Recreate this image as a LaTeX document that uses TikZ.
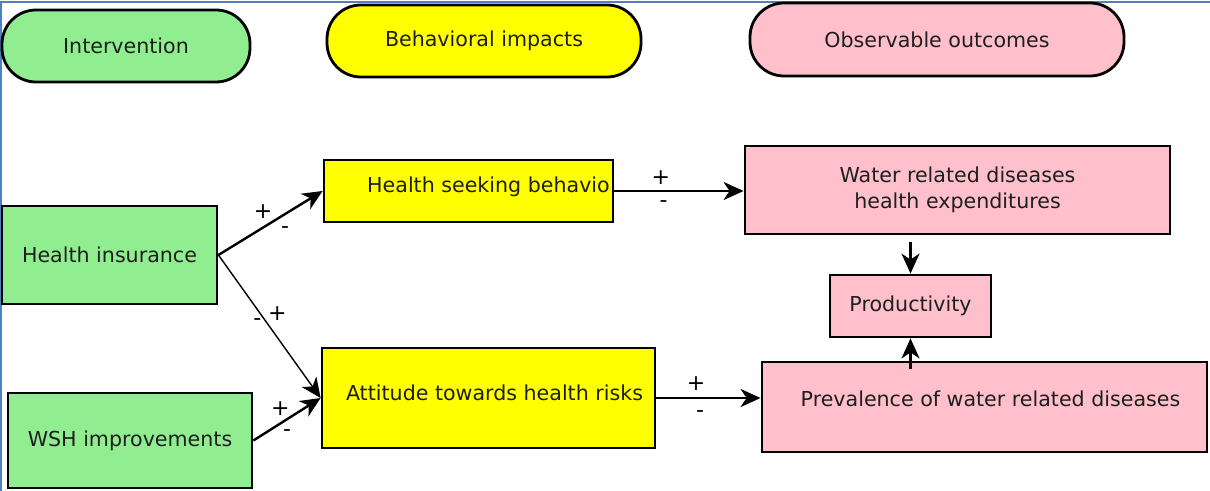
\documentclass[tikz,border=0pt]{standalone}
\usepackage{fontspec}
\setmainfont{DejaVu Sans}
\usetikzlibrary{arrows.meta}
\definecolor{insgreen}{RGB}{144,238,144}
\definecolor{behyellow}{RGB}{255,255,0}
\definecolor{outpink}{RGB}{255,192,203}
\definecolor{framblue}{RGB}{79,129,189}
\definecolor{textgray}{RGB}{30,30,30}

\begin{document}
\begin{tikzpicture}[x=0.5pt,y=-0.5pt]
\tikzstyle{every node}=[font=\fontsize{10.3}{13}\selectfont, text=textgray]
\tikzstyle{phase}=[draw, line width=1.4pt, rounded corners=17pt, minimum height=36pt, inner sep=0pt]
\tikzstyle{box}=[draw, line width=1.4pt, inner sep=0pt, align=center]
\tikzstyle{sign}=[inner sep=0pt, text=black, font=\fontsize{11}{13}\selectfont]
\tikzstyle{link}=[line width=1.2pt, -{Stealth[length=10pt,width=9pt,inset=3pt]}]
\useasboundingbox (0,0) rectangle (1210,491);
\draw[framblue, line width=1pt] (1,491) -- (1,2) -- (1210,2);

% column headers
\node at (126,46) [phase, fill=insgreen, minimum width=124pt] (inter) {Intervention};
\node at (484,41) [phase, fill=behyellow, minimum width=157pt] (behav) {Behavioral impacts};
\node at (937,39.5) [phase, fill=outpink, minimum width=187pt, minimum height=36.5pt] (obs) {Observable outcomes};

% interventions
\node at (109.5,255) [box, fill=insgreen, minimum width=107.5pt, minimum height=49pt] (hi) {Health insurance};
\node at (130,440.5) [box, fill=insgreen, minimum width=122pt, minimum height=47.5pt] (wsh) {WSH improvements};

% behaviour
\node at (468.5,191) [box, fill=behyellow, minimum width=144.5pt, minimum height=31pt] (hsb)
  {\hspace*{20pt}\raisebox{2pt}[\height][\depth]{Health seeking behavio}};
\node at (488.5,398) [box, fill=behyellow, minimum width=166.5pt, minimum height=50pt] (athr)
  {\hspace*{6pt}\raisebox{2.5pt}[\height][\depth]{Attitude towards health risks}};

% outcomes
\node at (957.5,190) [box, fill=outpink, minimum width=212.5pt, minimum height=44pt] (wrd)
  {Water related diseases\\health expenditures};
\node at (910.5,306) [box, fill=outpink, minimum width=80.5pt, minimum height=31pt] (prod) {Productivity};
\node at (984.5,407) [box, fill=outpink, minimum width=222.5pt, minimum height=45pt] (prev)
  {\hspace*{6pt}\raisebox{4pt}[\height][\depth]{Prevalence of water related diseases}};

% links
\draw[link] (hi.east) -- (hsb.west)
  node[sign, pos=.43, yshift=7.75pt] {+} node[sign, pos=.64, yshift=-7.8pt] {-};
\draw[link, line width=0.7pt] (hi.east) -- (athr.west)
  node[sign, pos=.41, xshift=8.5pt] {+} node[sign, pos=.47, xshift=-4.5pt] {-};
\draw[link] (wsh.east) -- (athr.west)
  node[sign, pos=.4, yshift=7.5pt] {+} node[sign, pos=.5, yshift=-7pt] {-};
\draw[link] (hsb.east) -- (hsb.east -| wrd.west)
  node[sign, pos=.36, yshift=6.5pt] {+} node[sign, pos=.38, yshift=-6.5pt] {-};
\draw[link] (athr.east) -- (athr.east -| prev.west)
  node[sign, pos=.38, yshift=7pt] {+} node[sign, pos=.42, yshift=-8pt] {-};
\draw[link, shorten <=3.5pt] (prod.north |- wrd.south) -- (prod.north);
\draw[link, shorten <=-4pt] (prod.south |- prev.north) -- (prod.south);
\end{tikzpicture}
\end{document}
